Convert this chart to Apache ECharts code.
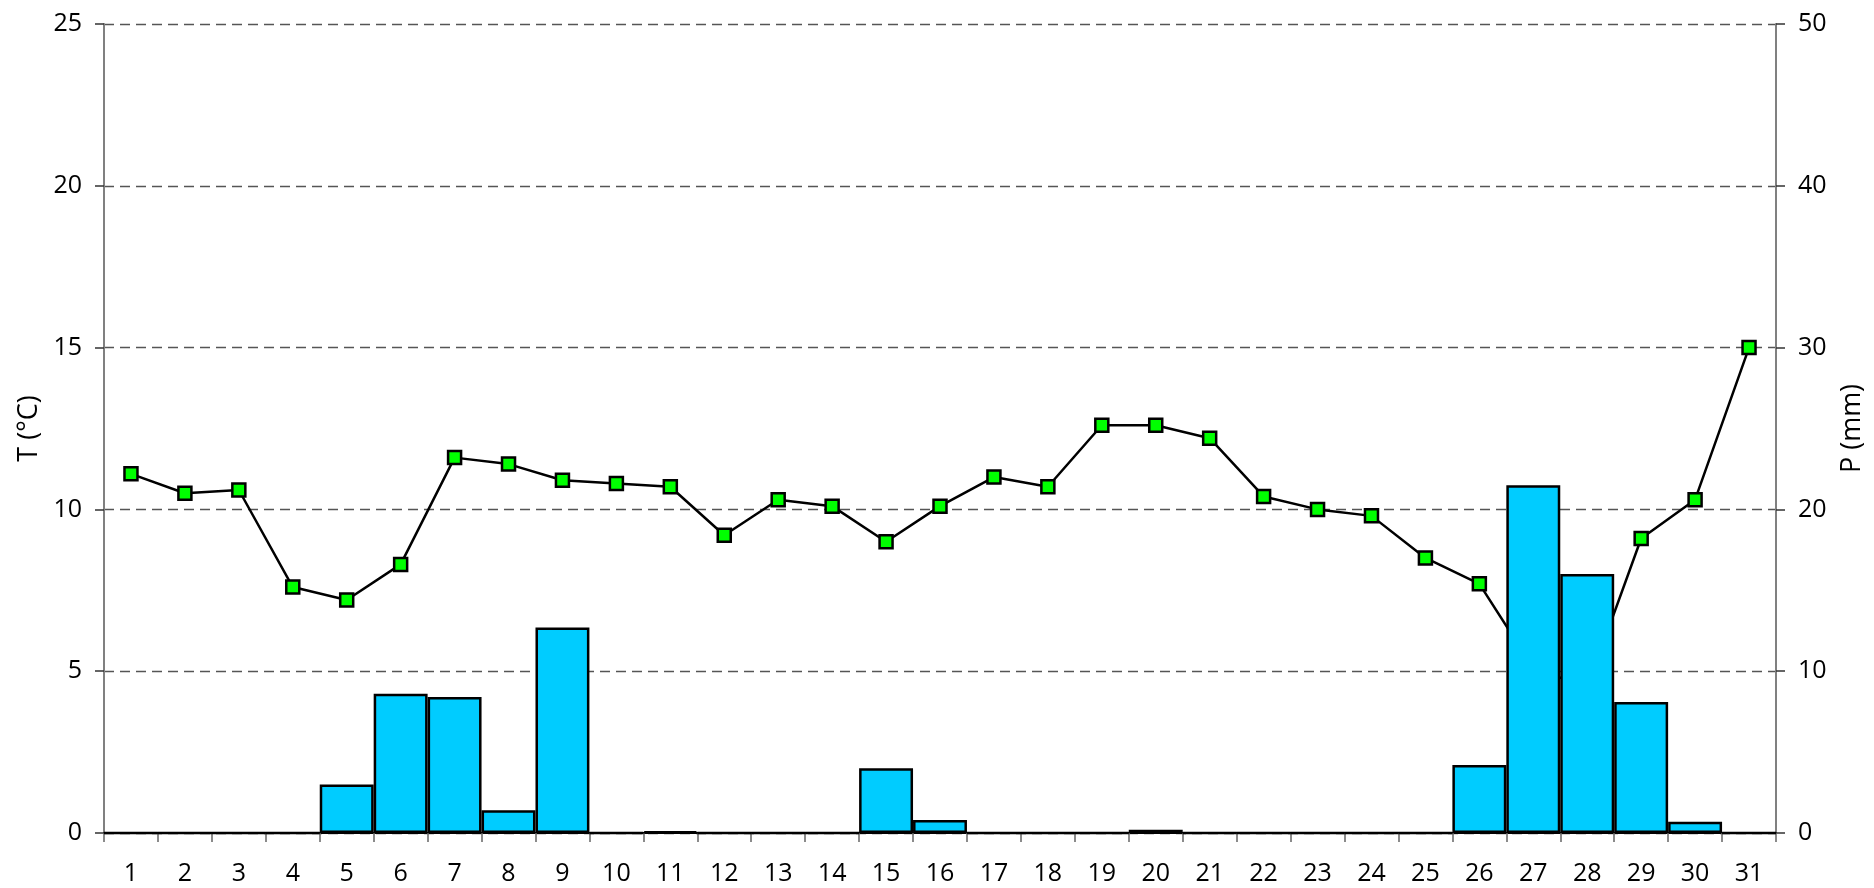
<!DOCTYPE html>
<html><head><meta charset="utf-8">
<script src="https://cdn.jsdelivr.net/npm/echarts@6/dist/echarts.min.js"></script>
<style>html,body{margin:0;padding:0;background:#fff}#c{width:1874px;height:888px}</style>
</head><body><div id="c"></div>
<script>
var days = ['1','2','3','4','5','6','7','8','9','10','11','12','13','14','15','16','17','18','19','20','21','22','23','24','25','26','27','28','29','30','31'];
var temperature = [11.1,10.5,10.6,7.6,7.2,8.3,11.6,11.4,10.9,10.8,10.7,9.2,10.3,10.1,9.0,10.1,11.0,10.7,12.6,12.6,12.2,10.4,10.0,9.8,8.5,7.7,5.1,4.5,9.1,10.3,15.0];
var precipitation = [0,0,0,0,3.0,8.6,8.4,1.4,12.7,0,0.1,0,0,0,4.0,0.8,0,0,0,0.2,0,0,0,0,0,4.2,21.5,16.0,8.1,0.7,0];
var tempTicks = {min:0, max:25, interval:5};
var precTicks = {min:0, max:50, interval:10};

var FONT = '"Open Sans", "DejaVu Sans", sans-serif';
var chart = echarts.init(document.getElementById('c'), null, {renderer:'canvas'});
chart.setOption({
  animation:false,
  backgroundColor:'#fff',
  grid:{left:104, right:95, top:24, bottom:55, containLabel:false},
  xAxis:{
    type:'category', data:days, boundaryGap:true,
    axisLine:{lineStyle:{color:'#000', width:2}},
    axisTick:{show:true, alignWithLabel:false, length:9, lineStyle:{color:'#666', width:1.5}},
    axisLabel:{color:'#000', fontSize:25, fontFamily:FONT, margin:28, interval:0},
    splitLine:{show:false}
  },
  yAxis:[{
    type:'value', min:tempTicks.min, max:tempTicks.max, interval:tempTicks.interval,
    name:'T (°C)', nameLocation:'middle', nameGap:60, nameRotate:90,
    nameTextStyle:{color:'#000', fontSize:27, fontFamily:FONT},
    axisLine:{show:true, lineStyle:{color:'#808080', width:2}},
    axisTick:{show:true, length:9, lineStyle:{color:'#333', width:1.5}},
    axisLabel:{color:'#000', fontSize:25, fontFamily:FONT, margin:22},
    splitLine:{show:true, lineStyle:{color:'#555', type:[10,6], width:1.3}}
  },{
    type:'value', min:precTicks.min, max:precTicks.max, interval:precTicks.interval,
    name:'P (mm)', nameLocation:'middle', nameGap:63, nameRotate:90,
    nameTextStyle:{color:'#000', fontSize:27, fontFamily:FONT},
    axisLine:{show:true, lineStyle:{color:'#808080', width:2}},
    axisTick:{show:true, length:9, lineStyle:{color:'#333', width:1.5}},
    axisLabel:{color:'#000', fontSize:25, fontFamily:FONT, margin:22},
    splitLine:{show:false}
  }],
  series:[{
    type:'line', name:'T', yAxisIndex:0, data:temperature, z:2,
    symbol:'rect', symbolSize:13,
    lineStyle:{color:'#000', width:2.5},
    itemStyle:{color:'#00FF00', borderColor:'#000', borderWidth:2.5}
  },{
    type:'bar', name:'P', yAxisIndex:1, data:precipitation, z:3,
    barCategoryGap:'0%', barGap:'0%',
    itemStyle:{color:'#00CCFF', borderColor:'#000', borderWidth:2.5}
  }]
});
</script></body></html>
